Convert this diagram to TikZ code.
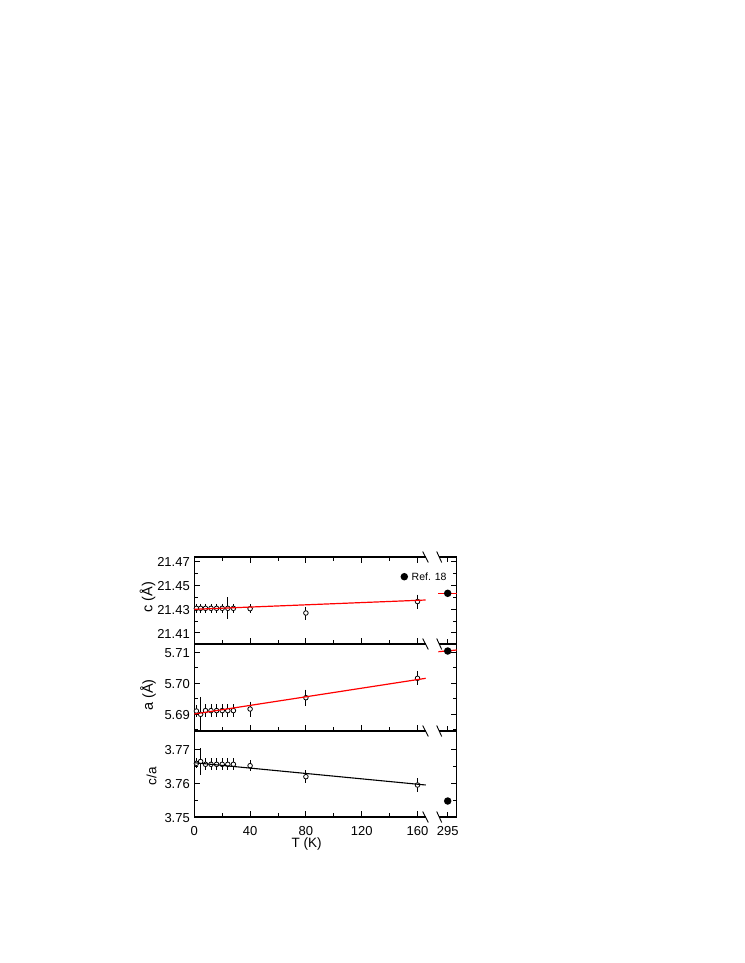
\documentclass[tikz,border=0pt]{standalone}
\usepackage{fontspec}
\setmainfont{Liberation Sans}
\begin{document}
\begin{tikzpicture}[x=1pt,y=-1pt,
  axisline/.style={line width=1.1pt},
  tickline/.style={line width=0.9pt},
  breakmark/.style={line width=0.9pt},
  fitred/.style={red, line width=1.2pt},
  fitblack/.style={black, line width=1.1pt},
  errbar/.style={line width=0.9pt},
  opendot/.style={circle, draw, fill=white, line width=0.8pt, inner sep=0pt, minimum size=4.6pt},
  fulldot/.style={circle, fill=black, inner sep=0pt, minimum size=7.5pt},
  ticklab/.style={font=\fontsize{13}{15}\selectfont, inner sep=0pt},
  axlab/.style={font=\fontsize{13.5}{15}\selectfont, inner sep=0pt},
  axlabbig/.style={font=\fontsize{14.5}{16}\selectfont, inner sep=0pt},
  leglab/.style={font=\fontsize{10.5}{12}\selectfont, inner sep=0pt}]
\useasboundingbox (0,0) rectangle (744,963);

% ---- frames
\draw[axisline] (425.5,557) -- (194.3,557) -- (194.3,817) -- (425.5,817);
\draw[axisline] (439.2,557) -- (456.7,557) -- (456.7,817) -- (439.2,817);
\foreach \yy in {644,731} {
  \draw[axisline] (194.3,\yy) -- (425.5,\yy);
  \draw[axisline] (439.2,\yy) -- (456.7,\yy);
}
% break marks
\foreach \yy in {557,644,731,817} {
  \draw[breakmark] (422.7,\yy-5.5) -- (428.3,\yy+5.5);
  \draw[breakmark] (436.7,\yy-5.5) -- (441.7,\yy+5.5);
}

% ---- x ticks (bottom edge of each panel, upward)
\foreach \yy in {644,731,817} {
  \foreach \xx in {250.1,305.9,361.7,417.5} \draw[tickline] (\xx,\yy) -- (\xx,\yy-6);
  \foreach \xx in {222.2,278,333.8,389.6} \draw[tickline] (\xx,\yy) -- (\xx,\yy-4);
  \draw[tickline] (447.7,\yy) -- (447.7,\yy-5);
}
% top edge of top panel (downward)
\foreach \xx in {250.1,305.9,361.7,417.5} \draw[tickline] (\xx,557) -- (\xx,563);
\foreach \xx in {222.2,278,333.8,389.6} \draw[tickline] (\xx,557) -- (\xx,561);
\draw[tickline] (447.7,557) -- (447.7,562);

% ---- y ticks
\foreach \yy in {561.2,585.1,609,632.9, 652.3,683.3,714.3, 749.3,783.2} {
  \draw[tickline] (194.3,\yy) -- (200.3,\yy);
  \draw[tickline] (456.7,\yy) -- (450.7,\yy);
}
\foreach \yy in {573.15,597.05,620.95, 667.8,698.8,729.8, 766.2,800.1} {
  \draw[tickline] (194.3,\yy) -- (198.3,\yy);
  \draw[tickline] (456.7,\yy) -- (452.7,\yy);
}

% ---- tick labels
\foreach \yy/\tx [count=\i] in {561.2/21.47,585.1/21.45,609/21.43,632.9/21.41,
   652.3/5.71,683.3/5.70,714.3/5.69, 749.3/3.77,783.2/3.76,817/3.75}
  \node[ticklab, anchor=base east] (yl\i) at (190,\yy+5.2) {\tx};
\foreach \xx/\tx [count=\i] in {194.3/0,250.1/40,305.9/80,361.7/120,417.5/160,447.7/295}
  \node[ticklab, anchor=base] (xl\i) at (\xx,835.5) {\tx};

% ---- axis labels
\node[axlab, anchor=base] (xlab) at (306.7,847) {T (K)};
\node[axlabbig, rotate=90] (clab) at (147.5,597) {c (Å)};
\node[axlabbig, rotate=90] (alab) at (148,695) {a (Å)};
\node[axlab, rotate=90] (calab) at (151.5,776) {c/a};

% ---- data: error bars and open circles
\foreach \xx/\yy/\ee [count=\i] in {196.4/608.3/4.5,200.6/608.3/4.5,205.5/608.3/4.5,211.0/608.3/4.5,
   216.6/608.3/4.5,222.2/608.3/4.5,227.8/608.3/11,233.4/608.3/4.5,250.1/608.7/4.5,305.9/613.0/6.5,417.5/601.5/7} {
  \draw[errbar] (\xx,\yy-\ee) -- (\xx,\yy+\ee);
  \node[opendot] (cp\i) at (\xx,\yy) {};
}
\foreach \xx/\yy/\ee [count=\i] in {196.4/711/6,200.6/714.3/17,205.5/710.6/6.5,211.0/710.6/6.5,
   216.6/710.6/6.5,222.2/710.6/6.5,227.8/710.6/6.5,233.4/710.6/6.5,250.1/709/7.5,305.9/697.7/8,417.5/678.3/7} {
  \draw[errbar] (\xx,\yy-\ee) -- (\xx,\yy+\ee);
  \node[opendot] (ap\i) at (\xx,\yy) {};
}
\foreach \xx/\yy/\ee [count=\i] in {196.4/763.3/5,200.6/761.5/13.5,205.5/764.3/6,211.0/764.3/6,
   216.6/764.3/6,222.2/764.3/6,227.8/764.3/6,233.4/764.3/6,250.1/765.7/5.5,305.9/776.7/6.7,417.5/785/6.7} {
  \draw[errbar] (\xx,\yy-\ee) -- (\xx,\yy+\ee);
  \node[opendot] (rp\i) at (\xx,\yy) {};
}

% ---- fit lines
\coordinate (cf1) at (194.3,609.3); \coordinate (cf2) at (425.7,600);
\coordinate (cf3) at (438.3,593.3); \coordinate (cf4) at (456.7,593.3);
\draw[fitred] (cf1) -- (cf2);
\draw[fitred] (cf3) -- (cf4);
\coordinate (af1) at (194.3,714); \coordinate (af2) at (425.7,678.3);
\coordinate (af3) at (438.3,651.7); \coordinate (af4) at (456.7,650);
\draw[fitred] (af1) -- (af2);
\draw[fitred] (af3) -- (af4);
\coordinate (rf1) at (194.3,762.7); \coordinate (rf2) at (425.7,785);
\draw[fitblack] (rf1) -- (rf2);

% ---- room temperature (Ref. 18) points
\node[fulldot] (rc) at (447.7,593.3) {};
\node[fulldot] (ra) at (447.7,651) {};
\node[fulldot] (rr) at (447.7,801) {};

% ---- legend
\node[fulldot] (legdot) at (404.3,576.7) {};
\node[leglab, anchor=base west] (legtext) at (411.5,580.5) {Ref. 18};
\end{tikzpicture}
\end{document}
